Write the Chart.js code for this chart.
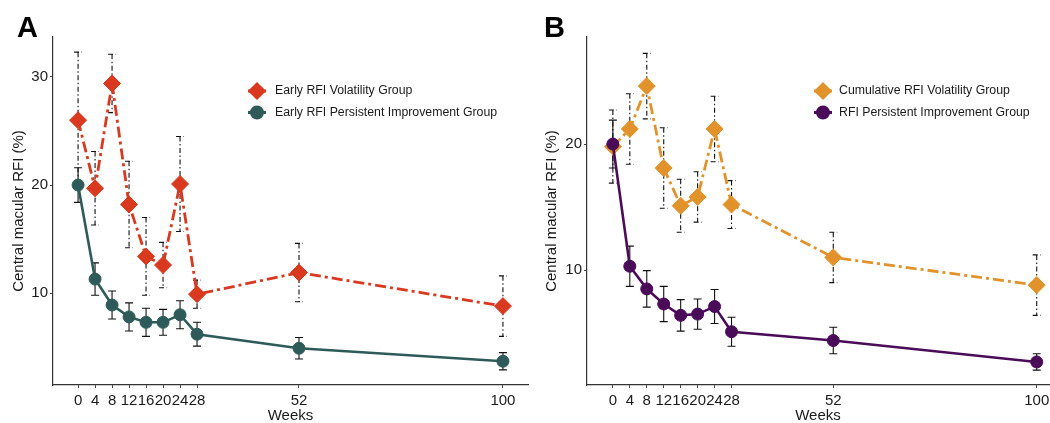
<!DOCTYPE html>
<html>
<head>
<meta charset="utf-8">
<script src="https://cdn.jsdelivr.net/npm/chart.js@4.4.0/dist/chart.umd.min.js"></script>
<style>
body { margin: 0; background: #fff; width: 1050px; height: 423px; overflow: hidden; position: relative; font-family: "Liberation Sans", Arial, sans-serif; }
#chartA { position: absolute; left: 0; top: 0; }
#chartB { position: absolute; left: 530px; top: 0; }
.tag { position: absolute; top: 13px; font-weight: bold; font-size: 29px; line-height: 29px; color: #000; }
</style>
</head>
<body>
<canvas id="chartA" width="530" height="423"></canvas>
<canvas id="chartB" width="520" height="423"></canvas>
<div class="tag" style="left:17px">A</div>
<div class="tag" style="left:544px">B</div>
<script>
// weeks on the x axis, same for both panels
const weeks = [0, 4, 8, 12, 16, 20, 24, 28, 52, 100];
const weekTicks = [0, 4, 8, 12, 16, 20, 24, 28, 52, 100];

// panel A
const earlyVolatility = [26.0, 19.7, 29.4, 18.2, 13.4, 12.6, 20.1, 9.9, 11.9, 8.8];
const earlyVolatilityErr = [6.3, 3.4, 2.7, 4.0, 3.6, 2.1, 4.4, 1.3, 2.7, 2.8];
const earlyPersistent = [20.0, 11.3, 8.9, 7.8, 7.3, 7.3, 8.0, 6.2, 4.9, 3.7];
const earlyPersistentErr = [1.6, 1.5, 1.3, 1.3, 1.3, 1.2, 1.3, 1.1, 1.0, 0.8];
const yTicksA = [10, 20, 30];

// panel B
const cumVolatility = [19.8, 21.2, 24.6, 18.1, 15.1, 15.8, 21.2, 15.2, 11.0, 8.8];
const cumVolatilityErr = [2.9, 2.8, 2.6, 3.2, 2.1, 2.0, 2.6, 1.9, 2.0, 2.4];
const persistent = [20.0, 10.3, 8.5, 7.3, 6.4, 6.5, 7.1, 5.1, 4.4, 2.7];
const persistentErr = [1.9, 1.6, 1.45, 1.4, 1.25, 1.2, 1.35, 1.15, 1.05, 0.65];
const yTicksB = [10, 20];

Chart.defaults.font.family = "'Liberation Sans', Arial, sans-serif";
Chart.defaults.color = '#1a1a1a';

const toPoints = (vals) => vals.map((v, i) => ({ x: weeks[i], y: v }));

// draws mean +/- error whiskers using the chart's own scales
const errorBars = {
    id: 'errorBars',
    beforeDatasetsDraw(chart) {
        const ctx = chart.ctx;
        const xs = chart.scales.x, ys = chart.scales.y;
        chart.data.datasets.forEach((ds) => {
            if (!ds.errors) return;
            ctx.save();
            ctx.strokeStyle = '#111';
            ctx.lineWidth = 1.1;
            ctx.setLineDash(ds.errorDash || []);
            ds.data.forEach((p, i) => {
                const x = xs.getPixelForValue(p.x);
                const top = ys.getPixelForValue(p.y + ds.errors[i]);
                const bot = ys.getPixelForValue(p.y - ds.errors[i]);
                ctx.beginPath();
                ctx.moveTo(x, top);
                ctx.lineTo(x, bot);
                ctx.moveTo(x - 4, top);
                ctx.lineTo(x + 4, top);
                ctx.moveTo(x - 4, bot);
                ctx.lineTo(x + 4, bot);
                ctx.stroke();
            });
            ctx.restore();
        });
    }
};

// two-row legend placed inside the plot area
const insetLegend = {
    id: 'insetLegend',
    afterDraw(chart, args, opts) {
        const ctx = chart.ctx;
        opts.order.forEach((idx, row) => {
            const ds = chart.data.datasets[idx];
            const y = opts.y + row * opts.rowGap;
            ctx.save();
            ctx.strokeStyle = ds.borderColor;
            ctx.lineWidth = 3;
            ctx.beginPath();
            ctx.moveTo(opts.x - 9, y);
            ctx.lineTo(opts.x + 9, y);
            ctx.stroke();
            Chart.helpers.drawPoint(ctx, {
                pointStyle: ds.pointStyle,
                radius: ds.pointStyle === 'circle' ? 5.5 : 7,
                borderWidth: 1
            }, opts.x, y);
            ctx.fillStyle = ds.backgroundColor;
            ctx.fill();
            ctx.fillStyle = '#1a1a1a';
            ctx.font = "12.3px 'Liberation Sans', Arial, sans-serif";
            ctx.textBaseline = 'middle';
            ctx.fillText(ds.label, opts.textX, y);
            ctx.restore();
        });
    }
};

function makePanel(id, cfg) {
    new Chart(document.getElementById(id), {
        type: 'line',
        data: {
            datasets: [
                {
                    label: cfg.persLabel,
                    data: toPoints(cfg.pers),
                    errors: cfg.persErr,
                    borderColor: cfg.persColor,
                    backgroundColor: cfg.persColor,
                    borderWidth: 2.6,
                    pointStyle: 'circle',
                    pointRadius: 6,
                    pointBorderWidth: 1,
                    clip: false,
                    order: 0
                },
                {
                    label: cfg.volLabel,
                    data: toPoints(cfg.vol),
                    errors: cfg.volErr,
                    errorDash: [5, 2.5, 1.5, 2.5],
                    borderColor: cfg.volColor,
                    backgroundColor: cfg.volColor,
                    borderWidth: 2.8,
                    borderDash: [11, 4, 3, 4],
                    pointStyle: 'rectRot',
                    pointRadius: 8.5,
                    pointBorderWidth: 1,
                    clip: false,
                    order: 1
                }
            ]
        },
        options: {
            responsive: false,
            animation: false,
            devicePixelRatio: 1,
            layout: { autoPadding: false, padding: { top: 37, right: cfg.padRight, left: 0, bottom: 0 } },
            scales: {
                x: {
                    type: 'linear',
                    min: cfg.xMin,
                    max: cfg.xMax,
                    afterBuildTicks: (s) => { s.ticks = weekTicks.map(v => ({ value: v })); },
                    afterFit: (s) => { s.height = 38; s.paddingLeft = 0; s.paddingRight = 0; },
                    ticks: { autoSkip: false, maxRotation: 0, padding: 4, font: { size: 15 }, color: '#1a1a1a' },
                    grid: { drawOnChartArea: false, tickLength: 3, tickColor: '#444' },
                    border: { color: '#333', width: 1.2 },
                    title: { display: true, text: 'Weeks', font: { size: 15, lineHeight: 1 }, padding: 0, color: '#1a1a1a' }
                },
                y: {
                    min: cfg.yMin,
                    max: cfg.yMax,
                    afterBuildTicks: (s) => { s.ticks = cfg.yTicks.map(v => ({ value: v })); },
                    afterFit: (s) => { s.width = cfg.yWidth; s.paddingTop = 0; s.paddingBottom = 0; },
                    ticks: { padding: 2, font: { size: 15 }, color: '#1a1a1a' },
                    grid: { drawOnChartArea: false, tickLength: 3, tickColor: '#444' },
                    border: { color: '#333', width: 1.2 },
                    title: { display: true, text: 'Central macular RFI (%)', font: { size: 15 }, padding: { top: cfg.titlePad, bottom: 0 }, color: '#1a1a1a' }
                }
            },
            plugins: {
                legend: { display: false },
                tooltip: { enabled: false },
                insetLegend: cfg.legend
            }
        },
        plugins: [errorBars, insetLegend]
    });
}

makePanel('chartA', {
    vol: earlyVolatility, volErr: earlyVolatilityErr, volColor: '#d8391f',
    volLabel: 'Early RFI Volatility Group',
    pers: earlyPersistent, persErr: earlyPersistentErr, persColor: '#2e5b59',
    persLabel: 'Early RFI Persistent Improvement Group',
    yMin: 1.5, yMax: 33.7, yTicks: yTicksA, yWidth: 53, titlePad: 10,
    xMin: -5.9, xMax: 105.9, padRight: 2,
    legend: { x: 257, textX: 275, y: 91, rowGap: 21.5, order: [1, 0] }
});

makePanel('chartB', {
    vol: cumVolatility, volErr: cumVolatilityErr, volColor: '#e2922a',
    volLabel: 'Cumulative RFI Volatility Group',
    pers: persistent, persErr: persistentErr, persColor: '#4a0b58',
    persLabel: 'RFI Persistent Improvement Group',
    yMin: 0.87, yMax: 28.5, yTicks: yTicksB, yWidth: 57, titlePad: 13,
    xMin: -6.1, xMax: 102.9, padRight: 1,
    legend: { x: 293, textX: 309, y: 91, rowGap: 21.5, order: [1, 0] }
});
</script>
</body>
</html>
